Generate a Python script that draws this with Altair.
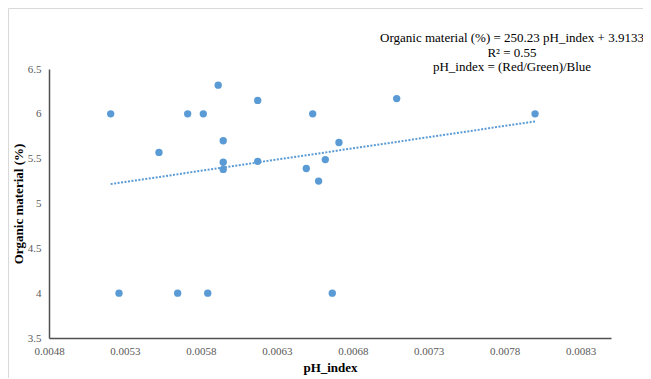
import altair as alt
import pandas as pd

# Data
ph_index = [0.005206, 0.005914, 0.006174, 0.005713, 0.005816, 0.006536, 0.007089, 0.008000,
            0.005947, 0.006709, 0.005524, 0.005947, 0.006174, 0.005947, 0.006619, 0.006494,
            0.006575, 0.005261, 0.005647, 0.005845, 0.006665]
organic = [6.00, 6.32, 6.15, 6.00, 6.00, 6.00, 6.17, 6.00,
           5.70, 5.68, 5.57, 5.46, 5.47, 5.38, 5.49, 5.39,
           5.25, 4.00, 4.00, 4.00, 4.00]

slope = 250.23
intercept = 3.9133

x_ticks = [0.0048, 0.0053, 0.0058, 0.0063, 0.0068, 0.0073, 0.0078, 0.0083]
y_ticks = [3.5, 4, 4.5, 5, 5.5, 6, 6.5]

annotation_text = ("Organic material (%) = 250.23 pH_index + 3.9133\n"
                   "R² = 0.55\n"
                   "pH_index = (Red/Green)/Blue")

df = pd.DataFrame({"ph_index": ph_index, "organic": organic})
xmin, xmax = min(ph_index), max(ph_index)
trend = pd.DataFrame({"ph_index": [xmin, xmax],
                      "organic": [slope * xmin + intercept, slope * xmax + intercept]})

FONT = "Liberation Serif"
BLUE = "#5B9BD5"

x_scale = alt.Scale(domain=[0.0048, 0.0085], nice=False, zero=False)
y_scale = alt.Scale(domain=[3.5, 6.5], nice=False, zero=False)

x_axis = alt.Axis(values=x_ticks, format=".4f", title="pH_index", grid=False, ticks=False,
                  labelFont=FONT, labelFontSize=11, labelColor="#595959", labelPadding=7,
                  titleFont=FONT, titleFontSize=13, titleFontWeight="bold", titleColor="#000000",
                  titleX=281, titleY=29, titleBaseline="middle", titleAlign="center",
                  domainColor="#505050", domainWidth=1.5, labelFlush=False)
y_axis = alt.Axis(values=y_ticks, format="~g", title="Organic material (%)", grid=False, ticks=False,
                  labelFont=FONT, labelFontSize=11, labelColor="#595959", labelPadding=8,
                  titleFont=FONT, titleFontSize=13, titleFontWeight="bold", titleColor="#000000",
                  titleX=-31, titleY=134.5, titleAngle=270, titleBaseline="middle", titleAlign="center",
                  domainColor="#505050", domainWidth=1.5, labelFlush=False)

X = alt.X("ph_index:Q", scale=x_scale, axis=x_axis)
Y = alt.Y("organic:Q", scale=y_scale, axis=y_axis)

line = alt.Chart(trend).mark_line(color=BLUE, strokeDash=[2, 1.5], strokeWidth=2).encode(x=X, y=Y)

points = alt.Chart(df).mark_circle(size=54, color=BLUE, opacity=1).encode(x=X, y=Y)

annotations = alt.Chart(pd.DataFrame({"text": [annotation_text]})).mark_text(
    font=FONT, fontSize=13, color="#000000", align="center", baseline="middle",
    lineBreak="\n", lineHeight=14.5,
).encode(text="text:N", x=alt.value(463), y=alt.value(-31))

border_top = alt.Chart(pd.DataFrame({"a": [0]})).mark_rule(color="#D9D9D9", strokeWidth=1).encode(
    x=alt.value(-40.5), x2=alt.value(600), y=alt.value(-60.5)
)
border_left = alt.Chart(pd.DataFrame({"a": [0]})).mark_rule(color="#D9D9D9", strokeWidth=1).encode(
    x=alt.value(-40.5), y=alt.value(-60.5), y2=alt.value(320)
)

chart = alt.layer(border_top, border_left, line, points, annotations).properties(
    width=562, height=269,
    padding={"left": 41, "top": 61, "right": 32, "bottom": 40},
    autosize=alt.AutoSizeParams(type="none"),
).configure_view(stroke=None).configure_axis(grid=False)

chart.save("out.html", embed_options={"renderer": "svg", "actions": False})
